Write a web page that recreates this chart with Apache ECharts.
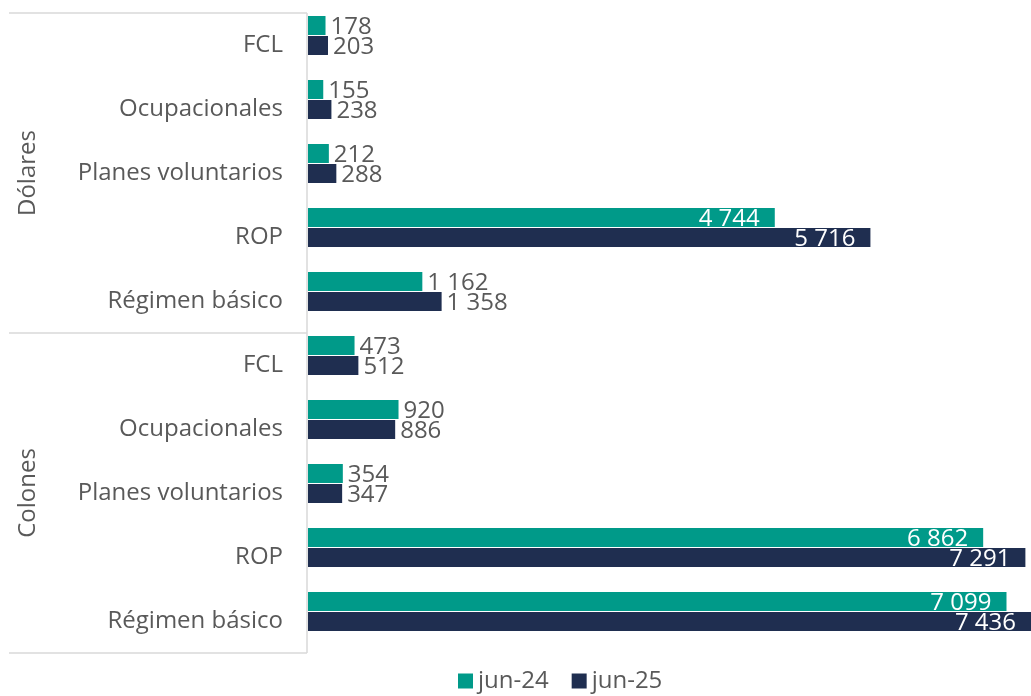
<!DOCTYPE html>
<html><head><meta charset="utf-8">
<script src="https://cdn.jsdelivr.net/npm/echarts@6/dist/echarts.min.js"></script>
<style>html,body{margin:0;padding:0;background:#fff}#c{width:1031px;height:696px}</style>
</head><body><div id="c"></div>
<script>
const categories = ['FCL','Ocupacionales','Planes voluntarios','ROP','Régimen básico','FCL','Ocupacionales','Planes voluntarios','ROP','Régimen básico'];
const groups = ['Dólares','Colones'];
const seriesNames = ['jun-24','jun-25'];
const jun24 = [178,155,212,4744,1162,473,920,354,6862,7099];
const jun25 = [203,238,288,5716,1358,512,886,347,7291,7436];

const FONT = 'Open Sans';
const FS = 24;
const TXT = '#595959';
const colors = ['#009A89','#1F2E50'];
function fmt(v){ return String(v).replace(/\B(?=(\d{3})+(?!\d))/g,' '); }
function items(arr){
  return arr.map(v => v > 3000
    ? {value:v, label:{position:'insideRight', distance:15, color:'#fff'}}
    : {value:v});
}
const chart = echarts.init(document.getElementById('c'), null, {renderer:'canvas'});
const gridLeft = 308, gridTop = 3.5, gridBottom = 52.5;
const lineTop = 13, lineBottom = 653, lineMid = (lineTop+lineBottom)/2;
chart.setOption({
  animation:false,
  color: colors,
  grid:{left:gridLeft, right:0, top:gridTop, bottom:gridBottom, containLabel:false},
  xAxis:{type:'value', min:0, max:7348, show:false},
  yAxis:{type:'category', data:categories, inverse:true,
    axisLine:{show:false}, axisTick:{show:false},
    axisLabel:{margin:25, formatter:'{a|{value}}',
      rich:{a:{color:TXT, fontFamily:FONT, fontSize:FS, padding:[19,0,0,0]}}}},
  legend:{top:664, left:453, itemWidth:15, itemHeight:15, itemGap:23,
    icon:'rect', textStyle:{color:TXT, fontFamily:FONT, fontSize:FS}, data:seriesNames},
  series:[jun24, jun25].map((arr,i)=>({
    name:seriesNames[i], type:'bar', data:items(arr), barWidth:19, barGap:'5%', barCategoryGap:'38%',
    label:{show:true, position:'right', distance:5, offset:[0,2], color:TXT, fontFamily:FONT, fontSize:FS,
      formatter:p=>fmt(p.value)}
  })),
  graphic:[
    {type:'line', shape:{x1:9,y1:lineTop,x2:gridLeft-1,y2:lineTop}, style:{stroke:'#D9D9D9', lineWidth:1.5}},
    {type:'line', shape:{x1:9,y1:lineMid,x2:gridLeft-1,y2:lineMid}, style:{stroke:'#D9D9D9', lineWidth:1.5}},
    {type:'line', shape:{x1:9,y1:lineBottom,x2:gridLeft-1,y2:lineBottom}, style:{stroke:'#D9D9D9', lineWidth:1.5}},
    {type:'line', shape:{x1:gridLeft-1,y1:lineTop,x2:gridLeft-1,y2:lineBottom}, style:{stroke:'#D9D9D9', lineWidth:1.5}},
    ...groups.map((g,i)=>({type:'text', x:28, y:lineTop + (i+0.5)*(lineBottom-lineTop)/2, rotation:Math.PI/2,
      style:{text:g, fill:TXT, font:FS+'px "'+FONT+'"', align:'center', verticalAlign:'middle'}}))
  ]
});
</script></body></html>
